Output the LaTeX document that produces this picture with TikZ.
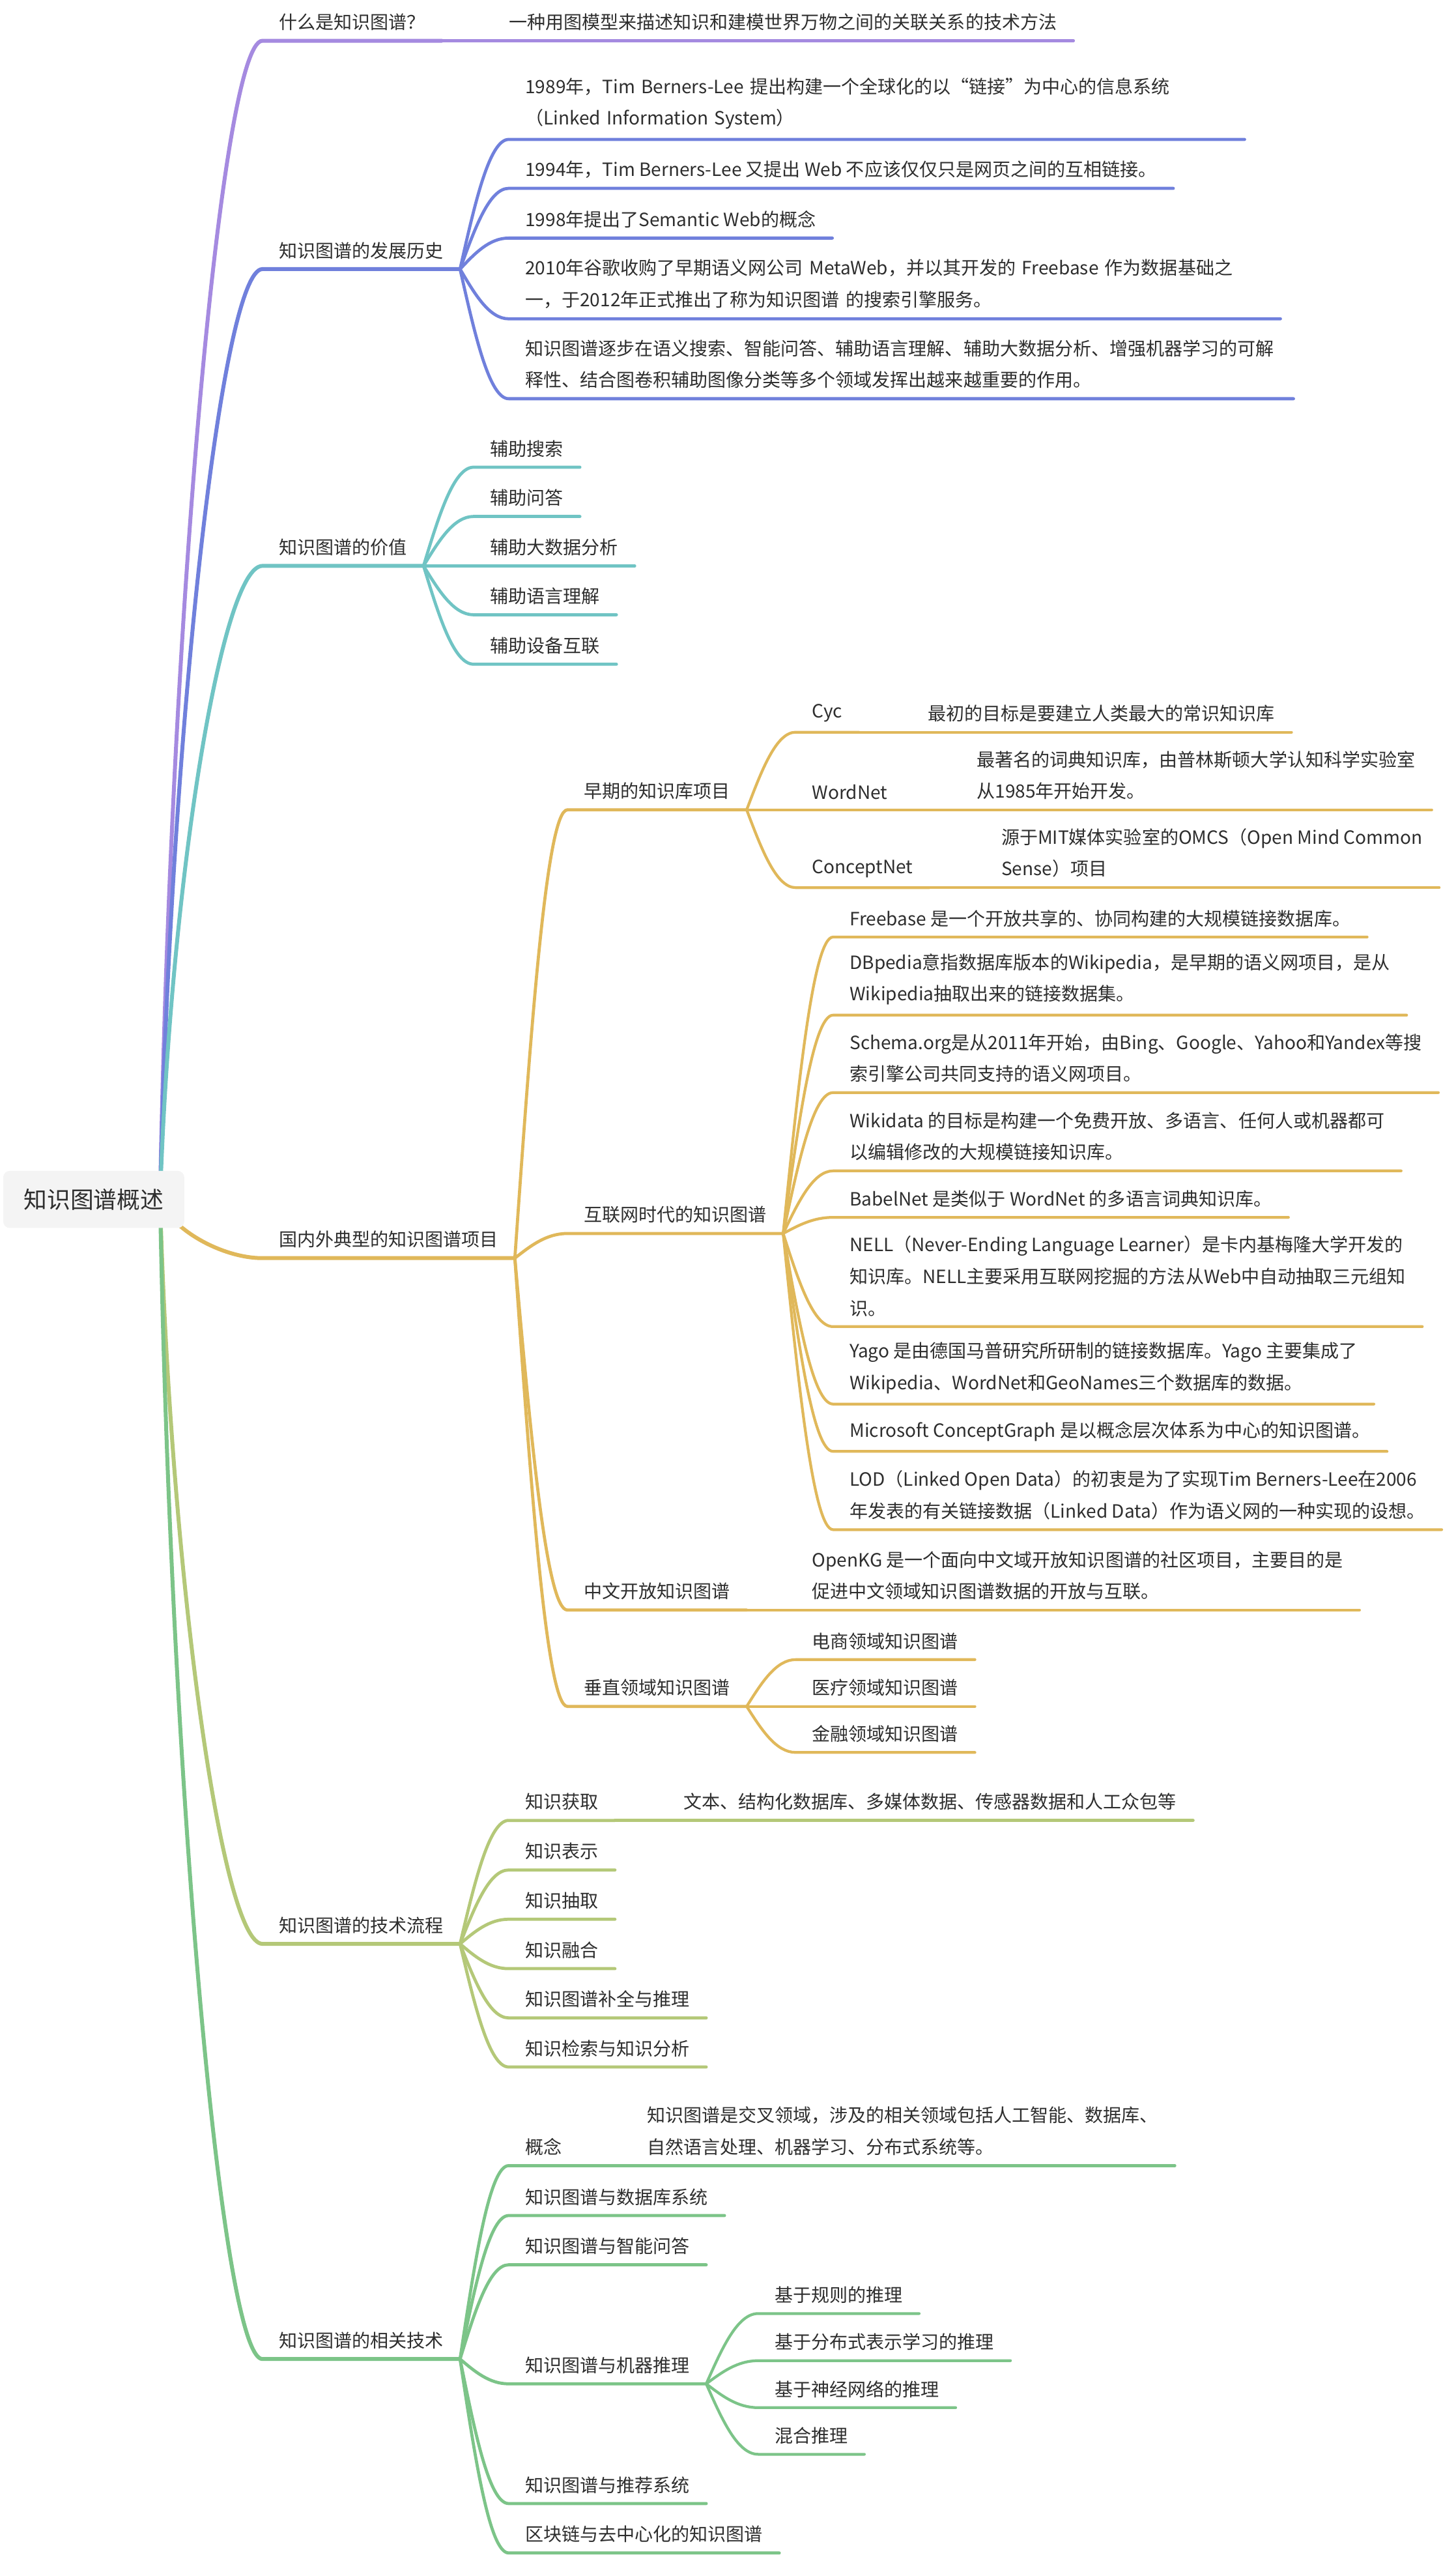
\documentclass[tikz,border=0pt]{standalone}
\usepackage{fontspec}
\newfontfamily\cjk{Noto Sans CJK SC}
\usetikzlibrary{calc,backgrounds}

\definecolor{ink}{HTML}{2E2E2E}
\definecolor{rootfill}{HTML}{F4F4F4}
\definecolor{cPurple}{HTML}{A58AE0}
\definecolor{cBlue}{HTML}{7080DC}
\definecolor{cTeal}{HTML}{70C4C4}
\definecolor{cGold}{HTML}{E0B85A}
\definecolor{cOlive}{HTML}{B4C878}
\definecolor{cGreen}{HTML}{7CC488}

\begin{document}
\begin{tikzpicture}[
  x=1pt, y=-1pt,
  every node/.style={font=\cjk\fontsize{11.2}{19.5}\selectfont, text=ink},
  topic/.style={anchor=south west, inner xsep=10pt, inner ysep=6pt, align=left},
  root/.style={fill=rootfill, rounded corners=4pt, minimum width=111pt,
               minimum height=35pt, font=\cjk\fontsize{14.3}{17}\selectfont},
  branch/.style={to path={let \p1=(\tikztostart), \p2=(\tikztotarget) in
      .. controls ({\x1+#1*(\x2-\x1)},{0.5*(\y1+\y2)})
         and ({\x1+0.6*(\x2-\x1)},\y2) .. (\tikztotarget)}},
  branch/.default=0.3,
  l1/.style={line width=2.4pt, line cap=round},
  l2/.style={line width=1.9pt, line cap=round},
  l3/.style={line width=1.7pt, line cap=round},
]
\useasboundingbox (0,0) rectangle (893,1568);

\node[root] (root) at (57.5,735.5) {知识图谱概述};
\coordinate (hub) at ($(root.east)+(-15,0)$);

% 什么是知识图谱
\node[topic] (what) at (161,25) {什么是知识图谱？};
\node[topic] (whatd) at (302,25) {一种用图模型来描述知识和建模世界万物之间的关联关系的技术方法};

% 发展历史
\node[topic] (hist) at (161,165) {知识图谱的发展历史};
\node[topic, text width=431pt] (h1) at (312,85.5) {1989年，Tim Berners-Lee 提出构建一个全球化的以“链接”为中心的信息系统\\（Linked Information System）};
\node[topic] (h2) at (312,115.5) {1994年，Tim Berners-Lee 又提出 Web 不应该仅仅只是网页之间的互相链接。};
\node[topic] (h3) at (312,146) {1998年提出了Semantic Web的概念};
\node[topic, text width=453pt] (h4) at (312,195.5) {2010年谷歌收购了早期语义网公司 MetaWeb，并以其开发的 Freebase 作为数据基础之\\一，于2012年正式推出了称为知识图谱 的搜索引擎服务。};
\node[topic, text width=461pt] (h5) at (312,244.5) {知识图谱逐步在语义搜索、智能问答、辅助语言理解、辅助大数据分析、增强机器学习的可解\\释性、结合图卷积辅助图像分类等多个领域发挥出越来越重要的作用。};

% 价值
\node[topic] (value) at (161,347) {知识图谱的价值};
\node[topic] (v1) at (290.5,286.5) {辅助搜索};
\node[topic] (v2) at (290.5,316.7) {辅助问答};
\node[topic] (v3) at (290.5,347) {辅助大数据分析};
\node[topic] (v4) at (290.5,377) {辅助语言理解};
\node[topic] (v5) at (290.5,407.3) {辅助设备互联};

% 典型项目
\node[topic] (proj) at (161,771.5) {国内外典型的知识图谱项目};
\node[topic] (early) at (348,496.6) {早期的知识库项目};
\node[topic] (cyc) at (488,449) {Cyc};
\node[topic] (cycd) at (559,449) {最初的目标是要建立人类最大的常识知识库};
\node[topic] (wn) at (488,496.6) {WordNet};
\node[topic] (wnd) at (589,496.6) {最著名的词典知识库，由普林斯顿大学认知科学实验室\\从1985年开始开发。};
\node[topic] (cn) at (488,544.3) {ConceptNet};
\node[topic] (cnd) at (604,544.3) {源于MIT媒体实验室的OMCS（Open Mind Common\\Sense）项目};

\node[topic] (web) at (348,756.4) {互联网时代的知识图谱};
\node[topic] (fb) at (511,574.6) {Freebase 是一个开放共享的、协同构建的大规模链接数据库。};
\node[topic] (dbp) at (511,622.5) {DBpedia意指数据库版本的Wikipedia，是早期的语义网项目，是从\\Wikipedia抽取出来的链接数据集。};
\node[topic] (sch) at (511,670) {Schema.org是从2011年开始，由Bing、Google、Yahoo和Yandex等搜\\索引擎公司共同支持的语义网项目。};
\node[topic] (wd) at (511,718) {Wikidata 的目标是构建一个免费开放、多语言、任何人或机器都可\\以编辑修改的大规模链接知识库。};
\node[topic] (bn) at (511,746.5) {BabelNet 是类似于 WordNet 的多语言词典知识库。};
\node[topic] (nell) at (511,813.5) {NELL（Never-Ending Language Learner）是卡内基梅隆大学开发的\\知识库。NELL主要采用互联网挖掘的方法从Web中自动抽取三元组知\\识。};
\node[topic] (yago) at (511,861) {Yago 是由德国马普研究所研制的链接数据库。Yago 主要集成了\\Wikipedia、WordNet和GeoNames三个数据库的数据。};
\node[topic] (mcg) at (511,890) {Microsoft ConceptGraph 是以概念层次体系为中心的知识图谱。};
\node[topic] (lod) at (511,938) {LOD（Linked Open Data）的初衷是为了实现Tim Berners-Lee在2006\\年发表的有关链接数据（Linked Data）作为语义网的一种实现的设想。};

\node[topic] (ckg) at (348,987.3) {中文开放知识图谱};
\node[topic] (okg) at (488,987.3) {OpenKG 是一个面向中文域开放知识图谱的社区项目，主要目的是\\促进中文领域知识图谱数据的开放与互联。};

\node[topic] (vert) at (348,1046.4) {垂直领域知识图谱};
\node[topic] (ec) at (488,1017.7) {电商领域知识图谱};
\node[topic] (med) at (488,1046.4) {医疗领域知识图谱};
\node[topic] (fin) at (488,1074.6) {金融领域知识图谱};

% 技术流程
\node[topic] (flow) at (161,1192) {知识图谱的技术流程};
\node[topic] (acq) at (312,1116.3) {知识获取};
\node[topic] (acqd) at (409,1116.3) {文本、结构化数据库、多媒体数据、传感器数据和人工众包等};
\node[topic] (rep) at (312,1146.7) {知识表示};
\node[topic] (ext) at (312,1176.9) {知识抽取};
\node[topic] (fus) at (312,1207.2) {知识融合};
\node[topic] (comp) at (312,1237.4) {知识图谱补全与推理};
\node[topic] (ret) at (312,1267.5) {知识检索与知识分析};

% 相关技术
\node[topic] (rel) at (161,1446.6) {知识图谱的相关技术};
\node[topic] (con) at (312,1328) {概念};
\node[topic] (cond) at (386.6,1328) {知识图谱是交叉领域，涉及的相关领域包括人工智能、数据库、\\自然语言处理、机器学习、分布式系统等。};
\node[topic] (db) at (312,1358.6) {知识图谱与数据库系统};
\node[topic] (qa) at (312,1388.8) {知识图谱与智能问答};
\node[topic] (reason) at (312,1461.8) {知识图谱与机器推理};
\node[topic] (r1) at (465,1418.7) {基于规则的推理};
\node[topic] (r2) at (465,1447.6) {基于分布式表示学习的推理};
\node[topic] (r3) at (465,1476.4) {基于神经网络的推理};
\node[topic] (r4) at (465,1505) {混合推理};
\node[topic] (rec) at (312,1535.2) {知识图谱与推荐系统};
\node[topic] (chain) at (312,1565.5) {区块链与去中心化的知识图谱};

\begin{scope}[on background layer]
\fill[white] (0,0) rectangle (893,1568);

\draw[cPurple, l1] (hub) to[branch=0.1] (what.south west) -- (what.south east);
\draw[cPurple, l2] (what.south east) to[branch] (whatd.south west) -- (whatd.south east);

\draw[cBlue, l1] (hub) to[branch=0.1] (hist.south west) -- (hist.south east);
\draw[cBlue, l2] (hist.south east) to[branch] (h1.south west) -- (h1.south east);
\draw[cBlue, l2] (hist.south east) to[branch] (h2.south west) -- (h2.south east);
\draw[cBlue, l2] (hist.south east) to[branch] (h3.south west) -- (h3.south east);
\draw[cBlue, l2] (hist.south east) to[branch] (h4.south west) -- (h4.south east);
\draw[cBlue, l2] (hist.south east) to[branch] (h5.south west) -- (h5.south east);

\draw[cTeal, l1] (hub) to[branch=0.1] (value.south west) -- (value.south east);
\draw[cTeal, l2] (value.south east) to[branch] (v1.south west) -- (v1.south east);
\draw[cTeal, l2] (value.south east) to[branch] (v2.south west) -- (v2.south east);
\draw[cTeal, l2] (value.south east) to[branch] (v3.south west) -- (v3.south east);
\draw[cTeal, l2] (value.south east) to[branch] (v4.south west) -- (v4.south east);
\draw[cTeal, l2] (value.south east) to[branch] (v5.south west) -- (v5.south east);

\draw[cGold, l1] (hub) to[branch=0.1] (proj.south west) -- (proj.south east);
\draw[cGold, l2] (proj.south east) to[branch] (early.south west) -- (early.south east);
\draw[cGold, l3] (early.south east) to[branch] (cyc.south west) -- (cyc.south east);
\draw[cGold, l3] (cyc.south east) -- (cycd.south west) -- (cycd.south east);
\draw[cGold, l3] (early.south east) to[branch] (wn.south west) -- (wn.south east);
\draw[cGold, l3] (wn.south east) -- (wnd.south west) -- (wnd.south east);
\draw[cGold, l3] (early.south east) to[branch] (cn.south west) -- (cn.south east);
\draw[cGold, l3] (cn.south east) -- (cnd.south west) -- (cnd.south east);
\draw[cGold, l2] (proj.south east) to[branch] (web.south west) -- (web.south east);
\draw[cGold, l3] (web.south east) to[branch] (fb.south west) -- (fb.south east);
\draw[cGold, l3] (web.south east) to[branch] (dbp.south west) -- (dbp.south east);
\draw[cGold, l3] (web.south east) to[branch] (sch.south west) -- (sch.south east);
\draw[cGold, l3] (web.south east) to[branch] (wd.south west) -- (wd.south east);
\draw[cGold, l3] (web.south east) to[branch] (bn.south west) -- (bn.south east);
\draw[cGold, l3] (web.south east) to[branch] (nell.south west) -- (nell.south east);
\draw[cGold, l3] (web.south east) to[branch] (yago.south west) -- (yago.south east);
\draw[cGold, l3] (web.south east) to[branch] (mcg.south west) -- (mcg.south east);
\draw[cGold, l3] (web.south east) to[branch] (lod.south west) -- (lod.south east);
\draw[cGold, l2] (proj.south east) to[branch] (ckg.south west) -- (ckg.south east);
\draw[cGold, l3] (ckg.south east) -- (okg.south west) -- (okg.south east);
\draw[cGold, l2] (proj.south east) to[branch] (vert.south west) -- (vert.south east);
\draw[cGold, l3] (vert.south east) to[branch] (ec.south west) -- (ec.south east);
\draw[cGold, l3] (vert.south east) to[branch] (med.south west) -- (med.south east);
\draw[cGold, l3] (vert.south east) to[branch] (fin.south west) -- (fin.south east);

\draw[cOlive, l1] (hub) to[branch=0.1] (flow.south west) -- (flow.south east);
\draw[cOlive, l2] (flow.south east) to[branch] (acq.south west) -- (acq.south east);
\draw[cOlive, l2] (acq.south east) -- (acqd.south west) -- (acqd.south east);
\draw[cOlive, l2] (flow.south east) to[branch] (rep.south west) -- (rep.south east);
\draw[cOlive, l2] (flow.south east) to[branch] (ext.south west) -- (ext.south east);
\draw[cOlive, l2] (flow.south east) to[branch] (fus.south west) -- (fus.south east);
\draw[cOlive, l2] (flow.south east) to[branch] (comp.south west) -- (comp.south east);
\draw[cOlive, l2] (flow.south east) to[branch] (ret.south west) -- (ret.south east);

\draw[cGreen, l1] (hub) to[branch=0.1] (rel.south west) -- (rel.south east);
\draw[cGreen, l2] (rel.south east) to[branch] (con.south west) -- (con.south east);
\draw[cGreen, l2] (con.south east) -- (cond.south west) -- (cond.south east);
\draw[cGreen, l2] (rel.south east) to[branch] (db.south west) -- (db.south east);
\draw[cGreen, l2] (rel.south east) to[branch] (qa.south west) -- (qa.south east);
\draw[cGreen, l2] (rel.south east) to[branch] (reason.south west) -- (reason.south east);
\draw[cGreen, l3] (reason.south east) to[branch] (r1.south west) -- (r1.south east);
\draw[cGreen, l3] (reason.south east) to[branch] (r2.south west) -- (r2.south east);
\draw[cGreen, l3] (reason.south east) to[branch] (r3.south west) -- (r3.south east);
\draw[cGreen, l3] (reason.south east) to[branch] (r4.south west) -- (r4.south east);
\draw[cGreen, l2] (rel.south east) to[branch] (rec.south west) -- (rec.south east);
\draw[cGreen, l2] (rel.south east) to[branch] (chain.south west) -- (chain.south east);
\end{scope}
\end{tikzpicture}
\end{document}
